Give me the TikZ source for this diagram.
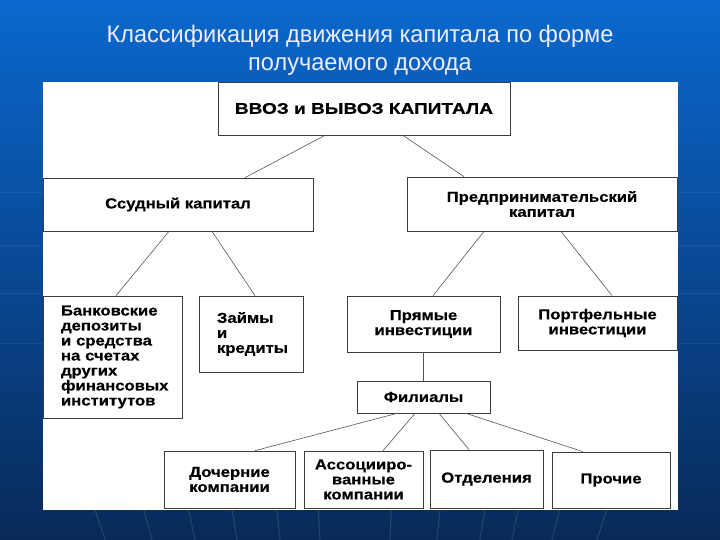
\documentclass[tikz,border=0pt]{standalone}
\usepackage{fontspec}
\setmainfont{Liberation Sans}
\newfontfamily\boxfontfam{Liberation Sans}[FakeStretch=1.15,FakeBold=0.4]
\newfontfamily\topfontfam{Liberation Sans}[FakeStretch=1.23,FakeBold=0.4]
\newfontfamily\titlefontfam{Liberation Sans}[FakeStretch=0.98]
\usetikzlibrary{calc}
\definecolor{bgtop}{RGB}{10,104,206}
\definecolor{bgmid}{RGB}{9,72,148}
\definecolor{bgbot}{RGB}{8,42,88}
\definecolor{edge}{RGB}{60,60,60}
\definecolor{conn}{RGB}{85,85,85}
\tikzset{
  box/.style={draw=edge, line width=0.7pt, fill=white, inner sep=0pt, align=center,
    font=\boxfontfam\bfseries\fontsize{14.5}{15}\selectfont},
  conline/.style={draw=conn, line width=0.6pt},
  bgline/.style={draw=white, opacity=0.12, line width=1pt},
  titletext/.style={text=white!93!blue, align=center, font=\titlefontfam\fontsize{24}{28}\selectfont}
}
\begin{document}
\begin{tikzpicture}[x=1pt,y=-1pt]
\useasboundingbox (0,0) rectangle (720,540);
% background
\shade[top color=bgtop, bottom color=bgbot, middle color=bgmid] (0,0) rectangle (720,540);
\begin{scope}
\clip (0,0) rectangle (720,540);
\foreach \bx in {105,152,195,237,280,320,390,437,480,512,552,597}{
  \draw[bgline] (360,1300) -- ({360+(\bx-360)*1.184},400);
}
\foreach \hy in {193,245,293,343}{
  \draw[bgline, opacity=0.07] (0,\hy) -- (720,\hy);
}
\end{scope}
% title
\node[titletext] (title) at (360,50) {Классификация движения капитала по форме\\получаемого дохода};
% panel
\fill[white] (43,82) rectangle (678,510);
% boxes
\node[box, minimum width=292pt, minimum height=53pt, font=\topfontfam\bfseries\fontsize{15.5}{17}\selectfont] (top) at (364,108.5) {ВВОЗ и ВЫВОЗ КАПИТАЛА};
\node[box, minimum width=270pt, minimum height=53pt] (ssud) at (178,204.5) {Ссудный капитал};
\node[box, minimum width=270pt, minimum height=54pt] (pred) at (542,204) {Предпринимательский\\капитал};
\node[box, minimum width=139pt, minimum height=122pt, align=left, text width=103pt, inner xsep=18pt] (bank) at (112.5,357)
  {Банковские\\депозиты\\и средства\\на счетах\\других\\финансовых\\институтов};
\node[box, minimum width=104pt, minimum height=76pt, align=left, text width=68pt, inner xsep=18pt] (zaim) at (251,334)
  {Займы\\и\\кредиты};
\node[box, minimum width=153pt, minimum height=56pt] (pryam) at (423.5,324) {Прямые\\инвестиции};
\node[box, minimum width=159pt, minimum height=54pt] (portf) at (597.5,323) {Портфельные\\инвестиции};
\node[box, minimum width=133pt, minimum height=32pt] (fil) at (423.5,397) {Филиалы};
\node[box, minimum width=131pt, minimum height=57pt] (doch) at (229.5,479.5) {Дочерние\\компании};
\node[box, minimum width=119pt, minimum height=57pt] (assoc) at (363.5,479.5) {Ассоцииро-\\ванные\\компании};
\node[box, minimum width=113pt, minimum height=58pt] (otd) at (486.5,479) {Отделения};
\node[box, minimum width=118pt, minimum height=56pt] (proch) at (611,480) {Прочие};
% connectors
\draw[conline] ([xshift=-39pt]top.south) -- ([xshift=67pt]ssud.north);
\draw[conline] ([xshift=39pt]top.south) -- ([xshift=-78pt]pred.north);
\draw[conline] ([xshift=-9pt]ssud.south) -- ([xshift=3.5pt]bank.north);
\draw[conline] ([xshift=34pt]ssud.south) -- ([xshift=4pt]zaim.north);
\draw[conline] ([xshift=-58pt]pred.south) -- ([xshift=9.5pt]pryam.north);
\draw[conline] ([xshift=19pt]pred.south) -- ([xshift=14.5pt]portf.north);
\draw[conline] (pryam.south) -- (fil.north);
\draw[conline] ([xshift=-26.5pt]fil.south) -- ([xshift=25.5pt]doch.north);
\draw[conline] ([xshift=-8.5pt]fil.south) -- ([xshift=19.5pt]assoc.north);
\draw[conline] ([xshift=15.5pt]fil.south) -- ([xshift=-17.5pt]otd.north);
\draw[conline] ([xshift=42.5pt]fil.south) -- ([xshift=-28pt]proch.north);
\end{tikzpicture}
\end{document}
